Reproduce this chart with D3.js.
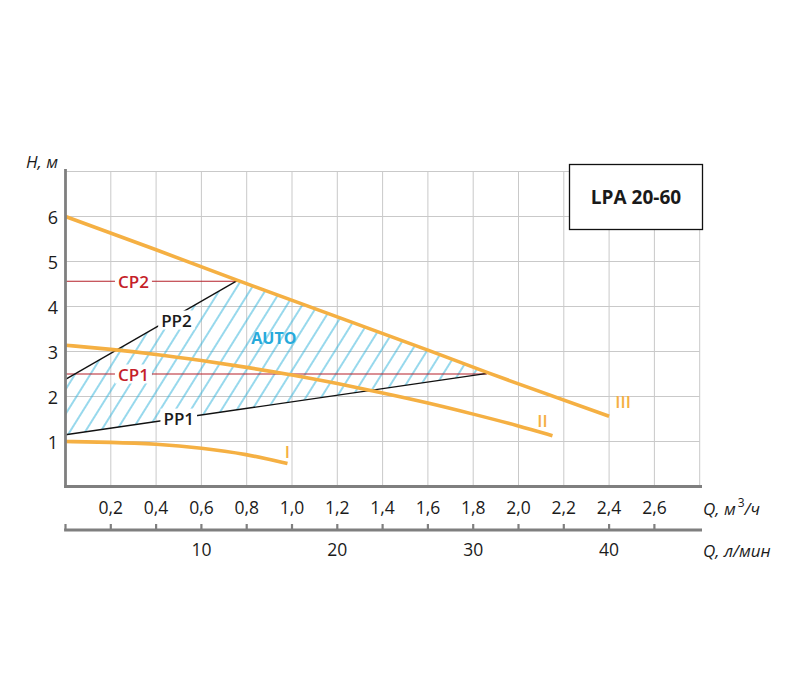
<!DOCTYPE html>
<html>
<head>
<meta charset="utf-8">
<script src="https://cdn.jsdelivr.net/npm/d3@7"></script>
<style>
  html, body { margin: 0; padding: 0; background: #fff; }
  svg { display: block; }
  text { font-family: "Open Sans", "Noto Sans", sans-serif; }
</style>
</head>
<body>
<svg id="chart" width="800" height="700"></svg>
<script>
// ---------- DATA ----------
const qTicks = [0.2, 0.4, 0.6, 0.8, 1.0, 1.2, 1.4, 1.6, 1.8, 2.0, 2.2, 2.4, 2.6];
const qGrid = [0.2, 0.4, 0.6, 0.8, 1.0, 1.2, 1.4, 1.6, 1.8, 2.0, 2.2, 2.4, 2.6, 2.8];
const hTicks = [1, 2, 3, 4, 5, 6];
const hGrid = [1, 2, 3, 4, 5, 6, 7];
const lminTicks = [10, 20, 30, 40];

// speed curves [Q m3/h, H m]
const curveI   = [[0, 1.0], [0.2, 0.985], [0.4, 0.945], [0.6, 0.86], [0.8, 0.72], [0.98, 0.51]];
const curveII  = [[0, 3.14], [0.2, 3.05], [0.4, 2.94], [0.6, 2.8], [0.8, 2.65], [1.0, 2.48], [1.2, 2.29], [1.4, 2.08], [1.6, 1.86], [1.8, 1.61], [2.0, 1.35], [2.15, 1.13]];
const curveIII = [[0, 6.0], [0.4, 5.26], [0.76, 4.58], [1.2, 3.77], [1.6, 3.03], [1.87, 2.52], [2.0, 2.28], [2.4, 1.56]];

// control lines
const pp1 = [[0, 1.15], [1.87, 2.52]];
const pp2 = [[0, 2.38], [0.76, 4.58]];
const cp1 = [[0, 2.5], [1.86, 2.5]];
const cp2 = [[0, 4.56], [0.76, 4.56]];

const curveNames = ["I", "II", "III"];
const title = "LPA 20-60";

// ---------- LAYOUT ----------
const svg = d3.select("#chart");
const x = d3.scaleLinear().domain([0, 2.8]).range([65.5, 699.7]);
const y = d3.scaleLinear().domain([0, 7]).range([486.5, 171.5]);
const xl = d3.scaleLinear().domain([0, 2.8 / 0.06]).range([65.5, 699.7]);

const orange = "#F5B043";
const red = "#B5202A";
const cyan = "#2FB2DA";
const gridC = "#C9C9C9";
const axisC = "#7F7F7F";
const ink = "#1b1b1b";

// hatch pattern
const defs = svg.append("defs");
const pat = defs.append("pattern")
  .attr("id", "hatch").attr("patternUnits", "userSpaceOnUse")
  .attr("width", 13).attr("height", 13)
  .attr("patternTransform", "rotate(32)");
pat.append("line").attr("x1", 2).attr("y1", 0).attr("x2", 2).attr("y2", 13)
  .attr("stroke", cyan).attr("stroke-width", 1);

// grid
svg.append("g").selectAll("line").data(qGrid).join("line")
  .attr("x1", d => x(d)).attr("x2", d => x(d))
  .attr("y1", y(7)).attr("y2", y(0))
  .attr("stroke", gridC).attr("stroke-width", 1);
svg.append("g").selectAll("line").data(hGrid).join("line")
  .attr("x1", x(0)).attr("x2", x(2.8))
  .attr("y1", d => y(d)).attr("y2", d => y(d))
  .attr("stroke", gridC).attr("stroke-width", 1);

// AUTO hatched area
const autoPoly = [pp1[0], pp2[0], pp2[1]]
  .concat(curveIII.filter(p => p[0] > pp2[1][0] && p[0] < pp1[1][0]))
  .concat([pp1[1]]);
svg.append("path")
  .attr("d", d3.line().x(d => x(d[0])).y(d => y(d[1]))(autoPoly) + "Z")
  .attr("fill", "url(#hatch)");

const line = d3.line().x(d => x(d[0])).y(d => y(d[1]));
const curveLine = d3.line().x(d => x(d[0])).y(d => y(d[1])).curve(d3.curveBasis);

// CP lines (red)
[cp1, cp2].forEach(c => {
  svg.append("path").attr("d", line(c)).attr("fill", "none")
    .attr("stroke", red).attr("stroke-width", 1.1);
});
// PP lines (black)
[pp1, pp2].forEach(c => {
  svg.append("path").attr("d", line(c)).attr("fill", "none")
    .attr("stroke", "#111").attr("stroke-width", 1.3);
});

// speed curves
[curveI, curveII].forEach(c => {
  svg.append("path").attr("d", curveLine(c)).attr("fill", "none")
    .attr("stroke", orange).attr("stroke-width", 3.6);
});
svg.append("path").attr("d", line(curveIII)).attr("fill", "none")
  .attr("stroke", orange).attr("stroke-width", 3.6).attr("stroke-linejoin", "round");

// labels with white background
function bgLabel(txt, cx, cy, color, size, weight) {
  const g = svg.append("g");
  const t = g.append("text").attr("x", cx).attr("y", cy)
    .attr("text-anchor", "middle").attr("dominant-baseline", "central")
    .attr("font-size", size).attr("fill", color)
    .attr("font-weight", weight).text(txt);
  const bb = t.node().getBBox();
  g.insert("rect", "text").attr("x", bb.x - 3).attr("y", bb.y + 2)
    .attr("width", bb.width + 6).attr("height", bb.height - 4).attr("fill", "#fff");
}
bgLabel("CP2", x(0.3), y(4.56), "#C51F2A", 17, 600);
bgLabel("CP1", x(0.3), y(2.5), "#C51F2A", 17, 600);
bgLabel("PP2", x(0.49), y(3.7), ink, 17, 600);
bgLabel("PP1", x(0.5), y(1.52), ink, 17, 600);

svg.append("text").attr("x", x(0.92)).attr("y", y(3.3))
  .attr("text-anchor", "middle").attr("dominant-baseline", "central")
  .attr("font-size", 16).attr("font-weight", "700").attr("fill", "#27AADB").text("AUTO");

// curve names
const nameAnchors = [[curveI, 0, -6], [curveII, -10, -9], [curveIII, 14, -8]];
nameAnchors.forEach((a, i) => {
  const last = a[0][a[0].length - 1];
  svg.append("text").attr("x", x(last[0]) + a[1]).attr("y", y(last[1]) + a[2])
    .attr("text-anchor", "middle").attr("font-size", 17).attr("fill", orange)
    .attr("font-weight", "600").text(curveNames[i]);
});

// axes
svg.append("line").attr("x1", x(0)).attr("x2", x(0)).attr("y1", 169).attr("y2", y(0) + 1.5)
  .attr("stroke", axisC).attr("stroke-width", 2.8);
svg.append("line").attr("x1", x(0) - 1.4).attr("x2", 702).attr("y1", y(0)).attr("y2", y(0))
  .attr("stroke", axisC).attr("stroke-width", 2.8);

// y tick labels
svg.append("g").selectAll("text").data(hTicks).join("text")
  .attr("x", 58).attr("y", d => y(d)).attr("text-anchor", "end")
  .attr("dominant-baseline", "central").attr("font-size", 18).attr("fill", ink)
  .text(d => d);
svg.append("text").attr("x", 58).attr("y", 168).attr("text-anchor", "end")
  .attr("font-size", 17).attr("font-style", "italic").attr("fill", ink).text("H, м");

// x tick labels (m3/h)
const fmt = d => d3.format(".1f")(d).replace(".", ",");
svg.append("g").selectAll("text").data(qTicks).join("text")
  .attr("x", d => x(d)).attr("y", 507).attr("text-anchor", "middle")
  .attr("dominant-baseline", "central").attr("font-size", 17.5).attr("fill", ink)
  .text(fmt);
const qlab = svg.append("text").attr("x", 703).attr("y", 508)
  .attr("dominant-baseline", "central").attr("font-size", 17).attr("font-style", "italic").attr("fill", ink);
qlab.append("tspan").text("Q, м");
qlab.append("tspan").attr("font-size", 12).attr("dy", -6).attr("dx", 2).attr("font-style", "normal").text("3");
qlab.append("tspan").attr("dy", 6).text("/ч");

// second axis (l/min)
const y2 = 530;
svg.append("line").attr("x1", x(0) - 1.4).attr("x2", 702).attr("y1", y2).attr("y2", y2)
  .attr("stroke", axisC).attr("stroke-width", 2.8);
svg.append("g").selectAll("line").data([0].concat(qTicks)).join("line")
  .attr("x1", d => x(d)).attr("x2", d => x(d)).attr("y1", y2).attr("y2", y2 - 6)
  .attr("stroke", axisC).attr("stroke-width", 2.2);
svg.append("g").selectAll("text").data(lminTicks).join("text")
  .attr("x", d => xl(d)).attr("y", 549).attr("text-anchor", "middle")
  .attr("dominant-baseline", "central").attr("font-size", 17.5).attr("fill", ink)
  .text(d => d);
svg.append("text").attr("x", 703).attr("y", 550).attr("dominant-baseline", "central")
  .attr("font-size", 17).attr("font-style", "italic").attr("fill", ink).text("Q, л/мин");

// title box
svg.append("rect").attr("x", 569.5).attr("y", 164.5).attr("width", 133).attr("height", 65)
  .attr("fill", "#fff").attr("stroke", "#111").attr("stroke-width", 1.3);
svg.append("text").attr("x", 636).attr("y", 197).attr("text-anchor", "middle")
  .attr("dominant-baseline", "central").attr("font-size", 19).attr("font-weight", "700")
  .attr("fill", "#1a1a1a").text(title);
</script>
</body>
</html>
